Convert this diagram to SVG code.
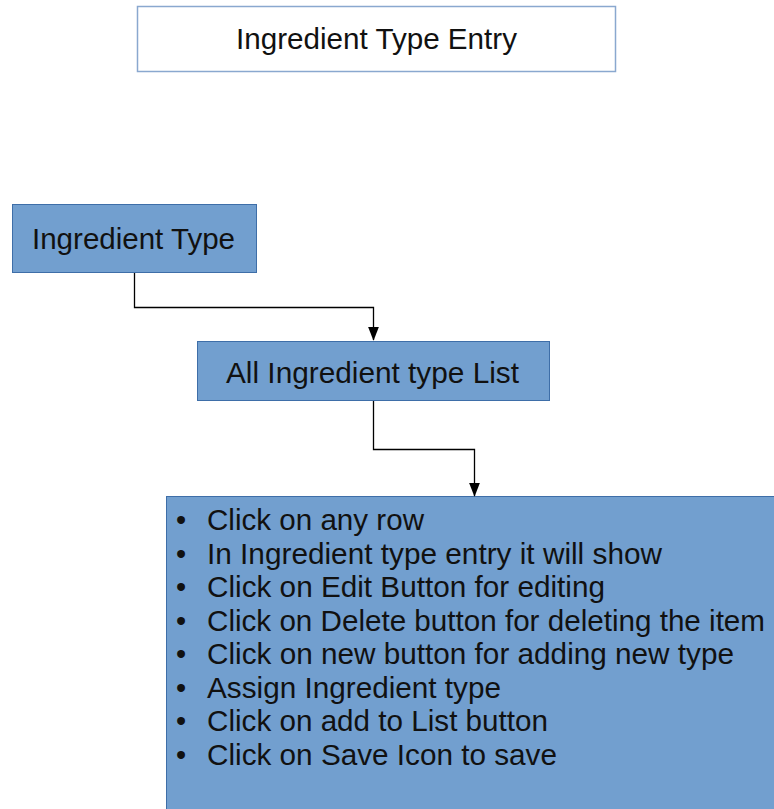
<svg xmlns="http://www.w3.org/2000/svg" width="774" height="809" viewBox="0 0 774 809">
<defs>
<style>
.t{font-family:"Liberation Sans",Arial,sans-serif;font-size:29px;fill:#111}
.n{fill:#729fcf;stroke:#3e6ea8;stroke-width:1}
.c{fill:none;stroke:#000;stroke-width:1.3}
</style>
<marker id="b" markerWidth="14" markerHeight="18" refX="17" refY="7" orient="auto" markerUnits="userSpaceOnUse" viewBox="0 0 18 14">
<path d="M0,0 L18,7 L0,14 Z" fill="#000"/>
</marker>
</defs>
<g id="title">
<rect x="137.5" y="6.5" width="478" height="65" fill="#fff" stroke="#8aa8cf" stroke-width="1.5"/>
<text class="t" x="236" y="48.5" textLength="281" lengthAdjust="spacingAndGlyphs">Ingredient Type Entry</text>
</g>
<g id="ingredient-type">
<rect class="n" x="12.5" y="204.5" width="244" height="68"/>
<text class="t" x="32" y="248.5" textLength="203" lengthAdjust="spacingAndGlyphs">Ingredient Type</text>
</g>
<g id="all-list">
<rect class="n" x="197.5" y="341.5" width="352" height="59"/>
<text class="t" x="226" y="382.5" textLength="293" lengthAdjust="spacingAndGlyphs">All Ingredient type List</text>
</g>
<g id="steps">
<rect class="n" x="166.5" y="496.5" width="620" height="330"/>
<g class="t">
<text x="176" y="530">•</text><text x="207" y="530" textLength="217" lengthAdjust="spacingAndGlyphs">Click on any row</text>
<text x="176" y="563.5">•</text><text x="207" y="563.5" textLength="455" lengthAdjust="spacingAndGlyphs">In Ingredient type entry it will show</text>
<text x="176" y="597">•</text><text x="207" y="597" textLength="398" lengthAdjust="spacingAndGlyphs">Click on Edit Button for editing</text>
<text x="176" y="630.5">•</text><text x="207" y="630.5" textLength="558" lengthAdjust="spacingAndGlyphs">Click on Delete button for deleting the item</text>
<text x="176" y="664">•</text><text x="207" y="664" textLength="527" lengthAdjust="spacingAndGlyphs">Click on new button for adding new type</text>
<text x="176" y="697.5">•</text><text x="207" y="697.5" textLength="294" lengthAdjust="spacingAndGlyphs">Assign Ingredient type</text>
<text x="176" y="731">•</text><text x="207" y="731" textLength="341" lengthAdjust="spacingAndGlyphs">Click on add to List button</text>
<text x="176" y="764.5">•</text><text x="207" y="764.5" textLength="350" lengthAdjust="spacingAndGlyphs">Click on Save Icon to save</text>
</g>
</g>
<g id="connectors">
<path class="c" d="M134.5,273 V307.5 H373.5 V340" marker-end="url(#b)"/>
<path class="c" d="M373.5,401 V449.5 H474.5 V496" marker-end="url(#b)"/>
</g>
</svg>
